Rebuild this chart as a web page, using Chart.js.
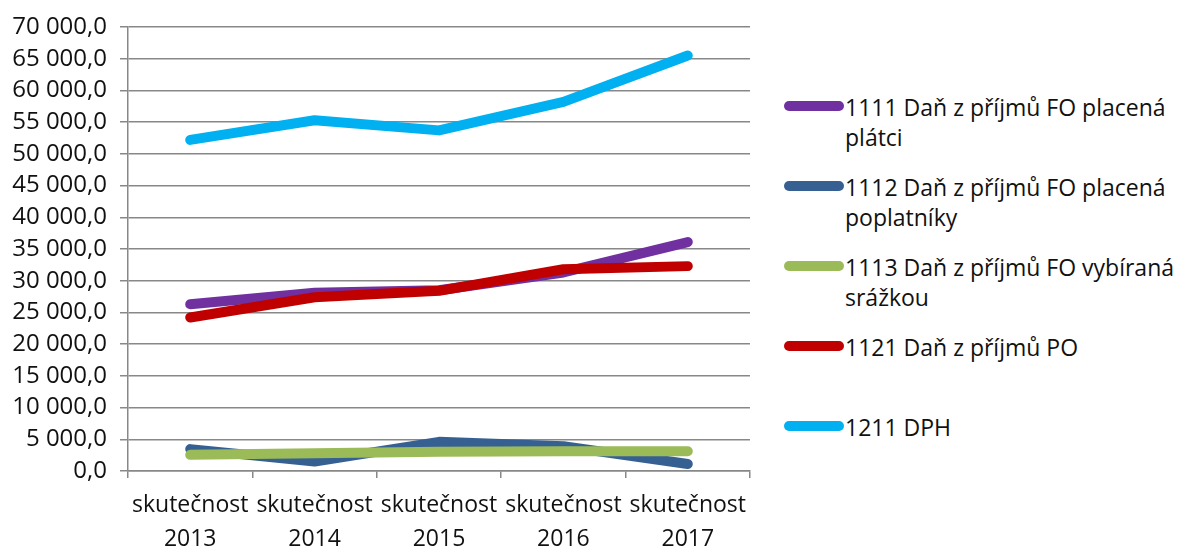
<!DOCTYPE html>
<html>
<head>
<meta charset="utf-8">
<script src="https://cdn.jsdelivr.net/npm/chart.js@4/dist/chart.umd.min.js"></script>
<style>
  body { margin: 0; background: #fff; font-family: "Open Sans", sans-serif; }
  #wrap { position: relative; width: 1181px; height: 550px; overflow: hidden; }
  #chart-box { position: absolute; left: 0; top: 0; width: 770px; height: 550px; }
  .legend-item { position: absolute; left: 784px; width: 397px; font-size: 23px; line-height: 30px; color: #111; }
  .legend-item .swatch { position: absolute; left: 0; top: 9px; width: 60px; height: 10px; border-radius: 5px; }
  .legend-item .txt { margin-left: 61px; }
</style>
</head>
<body>
<div id="wrap">
  <div id="chart-box"><canvas id="tax-chart"></canvas></div>
  <div id="legend"></div>
</div>
<script>
//DATA
let years = [['skutečnost', '2013'], ['skutečnost', '2014'], ['skutečnost', '2015'], ['skutečnost', '2016'], ['skutečnost', '2017']];

let seriesNames = [
  '1111 Daň z příjmů FO placená plátci',
  '1112 Daň z příjmů FO placená poplatníky',
  '1113 Daň z příjmů FO vybíraná srážkou',
  '1121 Daň z příjmů PO',
  '1211 DPH'
];

let fo1111 = [26300, 28100, 28500, 31300, 36100];
let fo1112 = [3450, 1500, 4600, 3900, 1100];
let fo1113 = [2550, 2800, 3050, 3100, 3100];
let po1121 = [24200, 27400, 28400, 31800, 32300];
let dph1211 = [52200, 55300, 53700, 58200, 65500];

let colors = ['#7030A0', '#376092', '#9BBB59', '#C00000', '#00B0F0'];

let yMax = 70000;
let yStep = 5000;

//FORMAT 70 000,0
function formatNumber(v) {
  let s = Math.round(v).toString().replace(/\B(?=(\d{3})+(?!\d))/g, ' ');
  return s + ',0';
}

//CHART
let allSeries = [fo1111, fo1112, fo1113, po1121, dph1211];

let datasets = allSeries.map((values, i) => ({
  label: seriesNames[i],
  data: values,
  borderColor: colors[i],
  backgroundColor: colors[i],
  borderWidth: 10,
  borderCapStyle: 'round',
  borderJoinStyle: 'round',
  pointRadius: 0,
  pointHoverRadius: 0,
  tension: 0,
  fill: false,
  order: 5 - i
}));

let config = {
  type: 'line',
  data: { labels: years, datasets: datasets },
  options: {
    responsive: true,
    maintainAspectRatio: false,
    animation: false,
    layout: { padding: { top: 27, right: 20, left: 0, bottom: 0 } },
    plugins: {
      legend: { display: false },
      tooltip: { enabled: false }
    },
    scales: {
      x: {
        offset: true,
        grid: {
          offset: true,
          drawOnChartArea: false,
          drawTicks: true,
          tickLength: 7,
          color: '#888',
          lineWidth: 1.5
        },
        border: { display: true, color: '#888', width: 1.5 },
        ticks: {
          color: '#111',
          font: { family: '"Open Sans", sans-serif', size: 23, lineHeight: 1.5 },
          maxRotation: 0,
          autoSkip: false,
          padding: 10
        },
        afterFit: function (scale) { scale.height = 79; }
      },
      y: {
        min: 0,
        max: yMax,
        grid: { color: '#888', lineWidth: 1.5, tickLength: 8 },
        border: { display: true, color: '#888', width: 1.5 },
        ticks: {
          stepSize: yStep,
          autoSkip: false,
          color: '#111',
          font: { family: '"Open Sans", sans-serif', size: 24, lineHeight: 1 },
          padding: 13,
          callback: function (value) { return formatNumber(value); }
        },
        afterFit: function (scale) { scale.width = 128; }
      }
    }
  }
};

let taxChart = new Chart(document.getElementById('tax-chart'), config);

//LEGEND
function showLegend() {
  let cible = document.getElementById('legend');
  cible.innerHTML = '';
  datasets.forEach((ds, i) => {
    let top = 92 + i * 80;
    cible.innerHTML += `<div class="legend-item" style="top:${top}px">
        <span class="swatch" style="background:${ds.borderColor}"></span>
        <div class="txt">${ds.label}</div>
      </div>`;
  });
}

showLegend();
</script>
</body>
</html>
